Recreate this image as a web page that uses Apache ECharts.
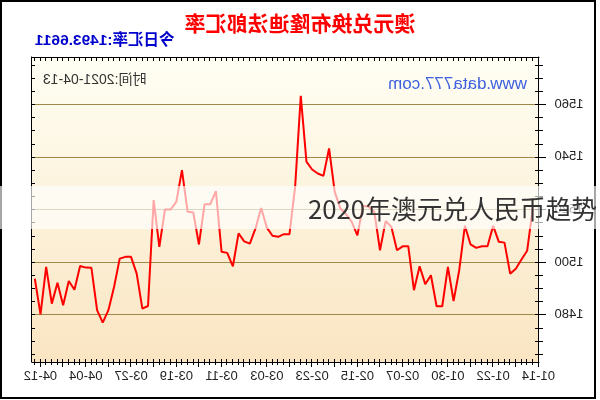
<!DOCTYPE html>
<html><head><meta charset="utf-8">
<script src="https://cdn.jsdelivr.net/npm/echarts@6/dist/echarts.min.js"></script>
<style>
html,body{margin:0;padding:0;background:#fff;}
#wrap{position:relative;width:600px;height:400px;overflow:hidden;background:#fff;}
#chart{position:absolute;left:0;top:0;width:600px;height:400px;transform:scaleX(-1);}
#frame{position:absolute;left:0;top:0;width:596px;height:399px;border:2px solid #000;box-sizing:border-box;pointer-events:none;}
#band{position:absolute;left:0;top:186px;width:600px;height:43px;background:rgba(255,255,255,0.65);}
#cap{position:absolute;left:308px;top:186px;height:43px;line-height:43px;font-family:"Noto Sans CJK SC";font-size:28px;color:#333;white-space:nowrap;}
</style></head>
<body>
<div id="wrap">
<div id="chart"></div>
<div id="frame"></div>
<div id="band"></div>
<div id="cap"><span id="capText">2020年澳元兑人民币趋势</span></div>
</div>
<script>
// Categories: one per day, 2021-01-14 .. 2021-04-13
const days = [
'01-14','01-15','01-16','01-17','01-18','01-19','01-20','01-21','01-22','01-23','01-24','01-25','01-26','01-27','01-28','01-29','01-30','01-31',
'02-01','02-02','02-03','02-04','02-05','02-06','02-07','02-08','02-09','02-10','02-11','02-12','02-13','02-14','02-15','02-16','02-17','02-18','02-19','02-20','02-21','02-22','02-23','02-24','02-25','02-26','02-27','02-28',
'03-01','03-02','03-03','03-04','03-05','03-06','03-07','03-08','03-09','03-10','03-11','03-12','03-13','03-14','03-15','03-16','03-17','03-18','03-19','03-20','03-21','03-22','03-23','03-24','03-25','03-26','03-27','03-28','03-29','03-30','03-31',
'04-01','04-02','04-03','04-04','04-05','04-06','04-07','04-08','04-09','04-10','04-11','04-12','04-13'];

// Rate values, aligned with days (no value for 01-14)
const rates = [
null,1520.4,1504.3,1501.0,1497.5,1495.6,1507.4,1507.7,1513.8,1506.0,
1506.0,1505.4,1506.7,1513.8,1496.9,1485.2,1498.2,1483.2,1483.2,1495.0,
1491.6,1498.4,1489.3,1506.0,1506.0,1504.5,1513.4,1515.6,1504.5,1519.1,
1521.0,1521.4,1510.2,1515.3,1518.2,1520.4,1526.7,1543.2,1532.8,1533.7,
1535.2,1538.2,1563.2,1528.6,1510.6,1510.6,1509.6,1510.0,1513.1,1520.6,
1512.8,1507.0,1507.9,1510.9,1498.4,1503.5,1503.9,1527.0,1522.0,1522.0,
1506.7,1518.9,1519.1,1535.0,1522.9,1520.0,1520.0,1505.8,1523.6,1483.3,
1482.3,1495.6,1502.0,1502.0,1501.3,1490.5,1481.7,1477.0,1481.7,1497.8,
1497.9,1498.5,1489.5,1492.8,1483.6,1492.1,1484.2,1498.2,1480.1,1493.66];

// Tick labels
const xLabels = ['01-14','01-22','01-30','02-07','02-15','02-23','03-03','03-11','03-19','03-27','04-04','04-12'];
const yLabels = [1480,1500,1520,1540,1560];
const yMinor = [1465,1470,1475,1480,1485,1490,1495,1500,1505,1510,1515,1520,1525,1530,1535,1540,1545,1550,1555,1560,1565,1570,1575];

const titleText = '澳元兑换布隆迪法郎汇率';
const todayText = '今日汇率:1493.6611';
const timeText = '时间:2021-04-13';
const siteText = 'www.data777.com';

// fit the overlay caption to its width in the reference
(function () {
  const s = document.getElementById('capText');
  const w = s.getBoundingClientRect().width;
  if (w > 0) document.getElementById('cap').style.fontSize = (28 * 289 / w) + 'px';
})();

const allIdx = days.map((d, i) => i);
const every4 = allIdx.filter(i => i % 4 === 0);
const labelIdx = xLabels.map(d => days.indexOf(d));

const chart = echarts.init(document.getElementById('chart'), null, {renderer: 'canvas'});
const xBase = {type: 'value', min: -0.1, max: 89.5, splitLine: {show: false}};
const yBase = {type: 'value', min: 1462, max: 1578};
const blk = {color: '#000', width: 1};
const lbl = {fontFamily: '"Liberation Sans", Arial, sans-serif', fontSize: 13, color: '#222'};

chart.setOption({
  animation: false,
  grid: {
    left: 61, right: 32, top: 57, bottom: 38, show: true, borderWidth: 0,
    containLabel: false, outerBoundsMode: 'none',
    backgroundColor: {type: 'linear', x: 0, y: 0, x2: 0, y2: 1,
      colorStops: [{offset: 0, color: '#fffff4'}, {offset: 1, color: '#fae5c2'}]}
  },
  xAxis: [
    Object.assign({}, xBase, {position: 'bottom',
      axisLine: {show: true, onZero: false, lineStyle: blk},
      axisTick: {show: true, customValues: allIdx, length: 3, inside: false, lineStyle: blk},
      axisLabel: Object.assign({customValues: labelIdx, formatter: v => days[Math.round(v)], margin: 8}, lbl)}),
    Object.assign({}, xBase, {position: 'bottom',
      axisLine: {show: false, onZero: false},
      axisTick: {show: true, customValues: allIdx, length: 3, inside: true, lineStyle: blk},
      axisLabel: {show: false}}),
    Object.assign({}, xBase, {position: 'bottom',
      axisLine: {show: false, onZero: false},
      axisTick: {show: true, customValues: every4, length: 5, inside: false, lineStyle: blk},
      axisLabel: {show: false}}),
    Object.assign({}, xBase, {position: 'top',
      axisLine: {show: true, onZero: false, lineStyle: blk},
      axisTick: {show: true, customValues: allIdx, length: 4, inside: true, lineStyle: blk},
      axisLabel: {show: false}})
  ],
  yAxis: [
    Object.assign({}, yBase, {position: 'left',
      axisLine: {show: true, onZero: false, lineStyle: blk},
      axisTick: {show: true, customValues: yLabels, length: 7, inside: false, lineStyle: blk},
      axisLabel: Object.assign({customValues: yLabels, margin: 15.5, formatter: v => String(v)}, lbl),
      splitLine: {show: true, lineStyle: {color: '#a08848', width: 1}}}),
    Object.assign({}, yBase, {position: 'left',
      axisLine: {show: false, onZero: false},
      axisTick: {show: true, customValues: yMinor, length: 4, inside: true, lineStyle: blk},
      axisLabel: {show: false}, splitLine: {show: false}}),
    Object.assign({}, yBase, {position: 'left',
      axisLine: {show: false, onZero: false},
      axisTick: {show: true, customValues: yMinor, length: 4, inside: false, lineStyle: blk},
      axisLabel: {show: false}, splitLine: {show: false}}),
    Object.assign({}, yBase, {position: 'right',
      axisLine: {show: true, onZero: false, lineStyle: blk},
      axisTick: {show: true, customValues: yMinor, length: 3, inside: true, lineStyle: blk},
      axisLabel: {show: false}, splitLine: {show: false}})
  ],
  graphic: [
    {type: 'text', left: 'center', top: 13, z: 100, style: {text: titleText, fill: '#ff0000',
      font: 'bold 21px "Noto Sans CJK SC", sans-serif'}},
    {type: 'text', right: 35, top: 33, z: 100, style: {text: todayText, fill: '#0000cc',
      font: 'bold 15.5px "Liberation Sans", "Noto Sans CJK SC", sans-serif'}},
    {type: 'text', right: 43, top: 73, z: 100, style: {text: timeText, fill: '#333',
      font: '14px "Liberation Sans", "Noto Sans CJK SC", sans-serif'}},
    {type: 'text', left: 73, top: 76, z: 100, style: {text: siteText, fill: '#3d5fe0',
      font: '17px "Liberation Sans", Arial, sans-serif'}}
  ],
  series: [{
    type: 'line', xAxisIndex: 0, yAxisIndex: 0,
    data: rates.map((v, i) => [i, v]),
    symbol: 'none', showSymbol: false, connectNulls: false,
    lineStyle: {color: '#ff0000', width: 2}, silent: true
  }]
});
</script>
</body></html>
